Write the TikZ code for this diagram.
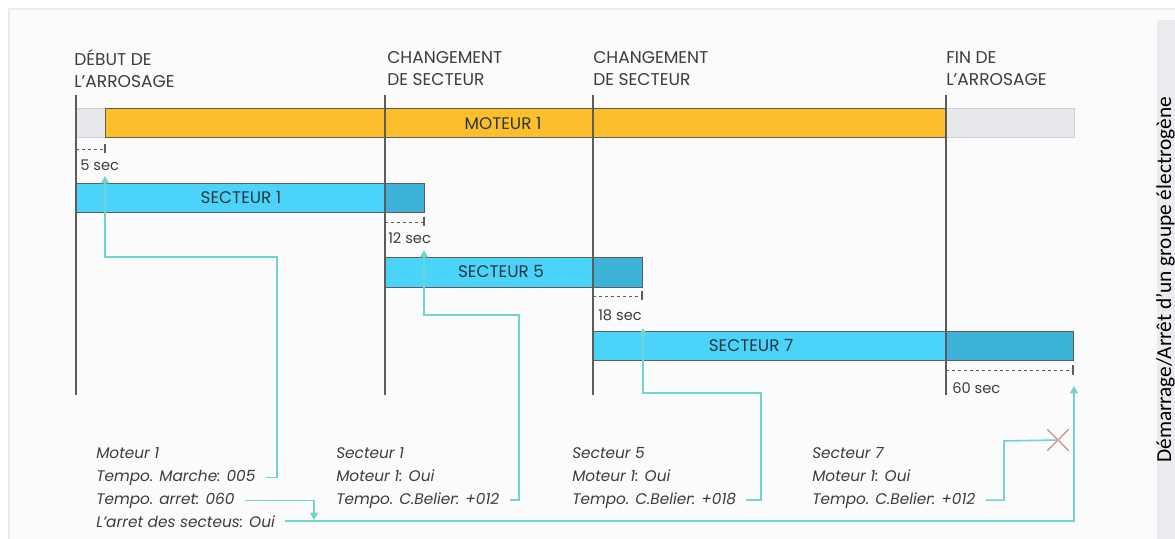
\documentclass[tikz,border=0pt]{standalone}
\usepackage{fontspec}
\setmainfont{Poppins}
\newfontfamily\panelfont{Carlito}
\usetikzlibrary{arrows.meta,shapes.misc}

\definecolor{framegray}{HTML}{ECECEC}
\definecolor{bggray}{HTML}{FBFBFB}
\definecolor{panelgray}{HTML}{EBECEF}
\definecolor{linegray}{HTML}{5C5C5C}
\definecolor{idlegray}{HTML}{E8E9EC}
\definecolor{motorange}{HTML}{FDBE2C}
\definecolor{seclight}{HTML}{4CD3F9}
\definecolor{secdark}{HTML}{3EB3DA}
\definecolor{linkteal}{HTML}{72D3CF}
\definecolor{stopred}{HTML}{D98585}
\definecolor{textgray}{HTML}{3D3D3D}
\definecolor{bartext}{HTML}{263840}

\tikzset{
  milestone/.style={anchor=north west, inner sep=0pt, align=left, text=textgray,
    font=\fontsize{12.8}{16.5}\selectfont},
  barlabel/.style={inner sep=0pt, text=bartext, font=\fontsize{12.6}{14}\selectfont},
  delaylabel/.style={anchor=base west, inner sep=0pt, text=textgray,
    font=\fontsize{11}{13}\selectfont},
  param/.style={anchor=base west, inner sep=0pt, text=textgray,
    font=\itshape\fontsize{11.5}{14}\selectfont},
  timeline/.style={draw=linegray, line width=1.1pt},
  barframe/.style={draw=linegray, line width=0.6pt},
  delayline/.style={draw=linegray, line width=0.7pt, dash pattern=on 2pt off 2.5pt},
  delaytick/.style={draw=linegray, line width=0.8pt},
  link/.style={draw=linkteal, line width=1.2pt},
  linkarrow/.style={link, -{Triangle[length=5.5pt,width=6pt]}}
}

\begin{document}
\begin{tikzpicture}[x=0.75pt,y=-0.75pt]
\useasboundingbox (0,0) rectangle (1175,539);
\fill[white] (0,0) rectangle (1175,539);
\draw[framegray, line width=1.5pt, fill=bggray] (9,9) rectangle (1200,570);
\fill[panelgray] (1157,20) rectangle (1190,560);
\node[rotate=90, anchor=base west, inner sep=0pt, font=\panelfont\fontsize{16}{18}\selectfont] (panel) at (1171,463) {Démarrage/Arrêt d’un groupe électrogène};

\node[milestone] (debut) at (74,49) {DÉBUT DE\\L’ARROSAGE};
\node[milestone] (chg1) at (387,51.5) {CHANGEMENT\\DE SECTEUR};
\node[milestone] (chg2) at (593,51.5) {CHANGEMENT\\DE SECTEUR};
\node[milestone] (fin) at (946,51.5) {FIN DE\\L’ARROSAGE};

\fill[idlegray] (76,108) rectangle (1074,137);
\draw[gray!35, line width=0.5pt] (76,108) rectangle (1074,137);
\draw[barframe, fill=motorange] (105,108) rectangle (946,137);
\node[barlabel] (mot) at (503,123) {MOTEUR 1};

\draw[barframe, fill=seclight] (76,183) rectangle (385,212);
\draw[barframe, fill=secdark] (385,183) rectangle (424,212);
\node[barlabel] (sec1) at (241,197) {SECTEUR 1};

\draw[barframe, fill=seclight] (385,257) rectangle (593,287);
\draw[barframe, fill=secdark] (593,257) rectangle (642,287);
\node[barlabel] (sec5) at (501,271) {SECTEUR 5};

\draw[barframe, fill=seclight] (593,331) rectangle (946,360);
\draw[barframe, fill=secdark] (946,331) rectangle (1073,360);
\node[barlabel] (sec7) at (751,345) {SECTEUR 7};

\draw[timeline] (76,95) -- (76,395);
\draw[timeline] (385,95) -- (385,395);
\draw[timeline] (593,95) -- (593,395);
\draw[timeline] (946,95) -- (946,395);

\draw[delayline] (76,149) -- (105,149);
\draw[delaytick] (105,144) -- (105,153);
\node[delaylabel] (d5) at (80,170) {5 sec};
\draw[delayline] (385,222) -- (424,222);
\draw[delaytick] (424,217) -- (424,226);
\node[delaylabel] (d12) at (388,243) {12 sec};
\draw[delayline] (593,296) -- (642,296);
\draw[delaytick] (642,291) -- (642,300);
\node[delaylabel] (d18) at (598,320) {18 sec};
\draw[delayline] (946,370) -- (1073,370);
\draw[delaytick] (1073,365) -- (1073,375);
\node[delaylabel] (d60) at (952,393) {60 sec};

\coordinate (a5) at (105,176);
\coordinate (a12) at (424,250);
\coordinate (a18) at (643,328);
\coordinate (a60) at (1074,386);
\coordinate (a6) at (314,520);

\node[param] (mtitle) at (96,458) {Moteur 1};
\node[param] (mmarche) at (96,481) {Tempo. Marche: 005};
\node[param] (marret) at (96,504) {Tempo. arret: 060};
\node[param] (msect) at (96,527) {L’arret des secteus: Oui};

\node[param] (s1title) at (336,458) {Secteur 1};
\node[param] (s1mot) at (336,481) {Moteur 1: Oui};
\node[param] (s1belier) at (336,504) {Tempo. C.Belier: +012};

\node[param] (s5title) at (572,458) {Secteur 5};
\node[param] (s5mot) at (572,481) {Moteur 1: Oui};
\node[param] (s5belier) at (572,504) {Tempo. C.Belier: +018};

\node[param] (s7title) at (812,458) {Secteur 7};
\node[param] (s7mot) at (812,481) {Moteur 1: Oui};
\node[param] (s7belier) at (812,504) {Tempo. C.Belier: +012};

\node[cross out, draw=stopred, line width=0.9pt, minimum width=15pt, minimum height=15pt, inner sep=0pt] (stop) at (1058,440) {};

\draw[linkarrow] ([xshift=7.5pt]mmarche.east) -| (277,257) -| (a5);
\draw[linkarrow] ([xshift=7.5pt]s1belier.east) -| (519,315) -| (a12);
\draw[linkarrow] ([xshift=7.5pt]s5belier.east) -| (761,393) -| (a18);
\draw[link] ([xshift=7.5pt]s7belier.east) -| (1004,441) -- (stop.center);
\draw[linkarrow] ([xshift=7.5pt]marret.east) -| (a6);
\draw[linkarrow] ([xshift=7.5pt]msect.east) -| (a60);
\end{tikzpicture}
\end{document}
